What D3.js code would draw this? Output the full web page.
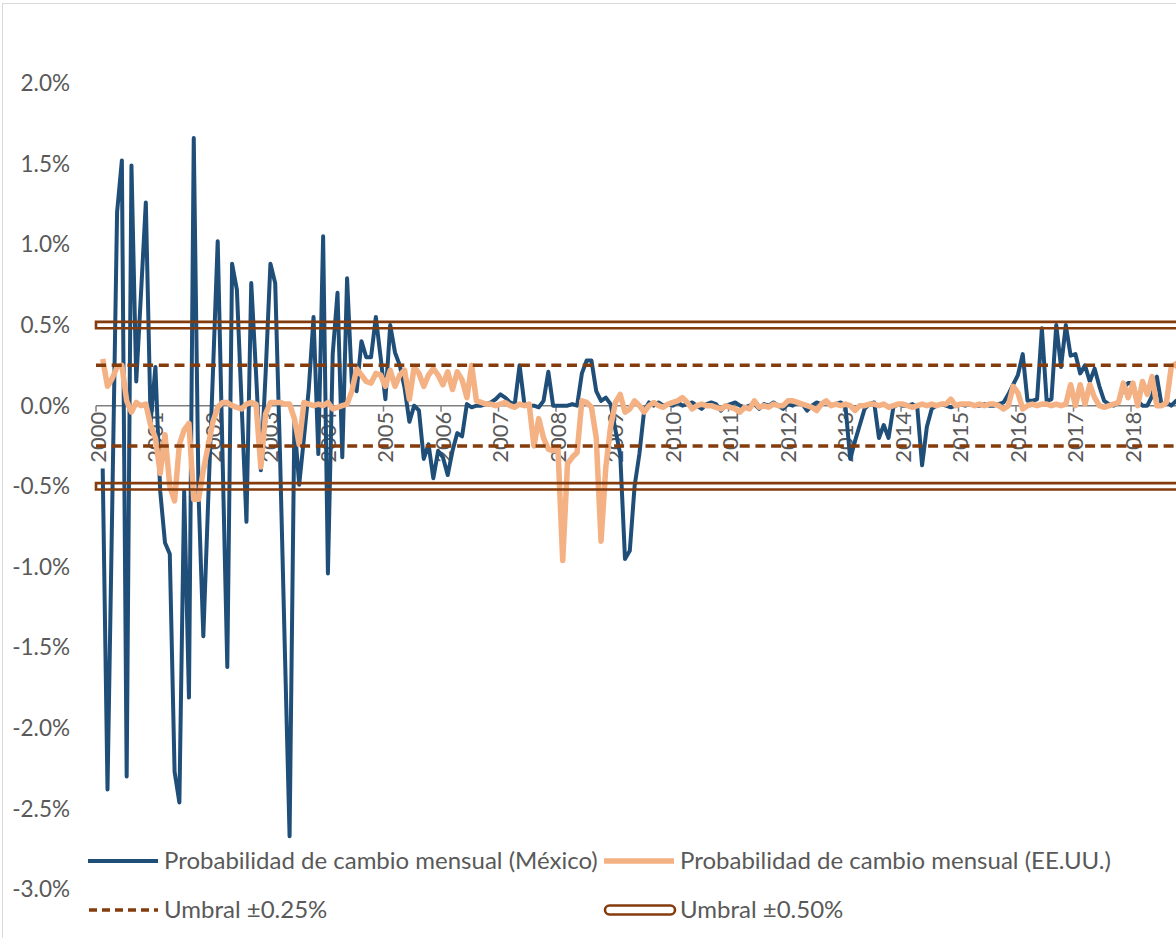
<!DOCTYPE html>
<html>
<head>
<meta charset="utf-8">
<script src="https://cdn.jsdelivr.net/npm/d3@7"></script>
<style>
  body { margin: 0; background: #fff; }
  text { font-family: Lato, "Open Sans", sans-serif; fill: #595959; }
</style>
</head>
<body>
<svg id="chart"></svg>
<script>
// Probabilidad de cambio mensual, % (monthly, Jan 2000 onward)
const mexico = [
  -0.39, -2.38, -0.6, 1.2, 1.52, -2.3, 1.49, 0.15, 0.7, 1.26, -0.1, 0.24,
  -0.53, -0.85, -0.92, -2.27, -2.46, -0.53, -1.81, 1.66, -0.55, -1.43, -0.6, 0.2,
  1.02, -0.3, -1.62, 0.88, 0.72, 0.0, -0.72, 0.76, 0.2, -0.4, 0.2, 0.88,
  0.76, -0.3, -1.5, -2.67, -0.1, -0.49, -0.2, 0.1, 0.55, -0.3, 1.05, -1.04,
  0.32, 0.7, -0.32, 0.79, 0.14, 0.09, 0.4, 0.3, 0.3, 0.55, 0.3, 0.04,
  0.5, 0.33, 0.25, 0.11, -0.1, 0.0, -0.03, -0.33, -0.24, -0.45, -0.28, -0.32,
  -0.43, -0.28, -0.17, -0.19, 0.01, -0.01, 0.0, 0.0, 0.01, 0.02, 0.04, 0.07,
  0.05, 0.02, 0.01, 0.25, 0.01, 0.0, 0.0, -0.01, 0.03, 0.21, 0.0, 0.0,
  0.0, 0.0, 0.01, 0.0, 0.2, 0.28, 0.28, 0.09, 0.03, 0.05, 0.01, -0.15,
  -0.3, -0.95, -0.9, -0.5, -0.3, -0.03, 0.02, 0.0, 0.02, 0.0, 0.01, 0.0,
  0.02, 0.0, 0.01, 0.02, 0.0, -0.02, 0.01, 0.02, 0.01, -0.03, 0.0, 0.01,
  0.02, 0.0, -0.01, 0.0, 0.01, -0.02, 0.01, 0.0, 0.02, 0.0, -0.02, 0.01,
  0.0, 0.02, 0.01, -0.03, 0.0, 0.02, 0.01, 0.03, 0.0, 0.01, 0.02, 0.0,
  -0.33, -0.22, -0.12, -0.02, 0.01, 0.02, -0.2, -0.12, -0.2, -0.01, 0.01, 0.0,
  0.0, 0.01, -0.01, -0.37, -0.13, -0.02, 0.0, 0.01, 0.0, -0.01, 0.0, 0.01,
  0.0, 0.01, 0.0, 0.0, 0.01, 0.0, 0.0, 0.01, 0.02, 0.07, 0.13, 0.19,
  0.32, 0.03, 0.03, 0.04, 0.48, 0.03, 0.04, 0.5, 0.24, 0.5, 0.31, 0.32,
  0.2, 0.25, 0.15, 0.23, 0.12, 0.03, 0.01, 0.0, 0.02, 0.11, 0.14, 0.14,
  0.03, 0.0, 0.0, 0.06, 0.18, 0.0, 0.02, 0.0, 0.03, 0.02, 0.0, 0.0
];

const usa = [
  0.29, 0.12, 0.17, 0.24, 0.25, 0.03, -0.04, 0.02, 0.0, 0.01, -0.12, -0.2,
  -0.42, -0.18, -0.5, -0.59, -0.24, -0.15, -0.11, -0.58, -0.58, -0.4, -0.25, -0.1,
  -0.01, 0.02, 0.02, 0.0, -0.01, -0.02, 0.01, 0.02, 0.01, -0.38, -0.05, 0.02,
  0.02, 0.02, 0.01, 0.01, -0.08, -0.24, 0.02, 0.01, 0.0, 0.01, 0.0, 0.02,
  -0.02, -0.01, 0.0, 0.01, 0.09, 0.23, 0.19, 0.15, 0.14, 0.2, 0.19, 0.12,
  0.22, 0.12, 0.19, 0.22, 0.04, 0.24, 0.2, 0.12, 0.19, 0.23, 0.19, 0.13,
  0.21, 0.1, 0.21, 0.16, 0.05, 0.25, 0.03, 0.02, 0.01, 0.01, 0.0, 0.01,
  0.02, 0.0, -0.01, 0.01, 0.0, 0.01, -0.25, -0.08, -0.2, -0.27, -0.28, -0.26,
  -0.96, -0.36, -0.32, -0.29, 0.03, 0.02, -0.01, -0.2, -0.84, -0.38, -0.13, 0.02,
  0.07, -0.04, -0.02, 0.03, 0.0, -0.04, 0.0, 0.02, 0.0, -0.01, 0.01, 0.02,
  0.03, 0.05, 0.02, -0.02, 0.0, 0.01, 0.0, 0.0, -0.01, -0.02, 0.0, -0.01,
  -0.02, -0.04, -0.01, -0.02, 0.03, -0.01, 0.0, -0.01, 0.01, 0.0, 0.0, 0.03,
  0.03, 0.02, 0.01, 0.0, -0.01, -0.03, 0.01, 0.03, 0.0, 0.01, 0.0, 0.01,
  0.0, -0.03, 0.0, 0.0, 0.01, 0.01, 0.0, 0.01, -0.01, 0.0, 0.01, 0.01,
  0.0, -0.01, 0.0, 0.01, 0.0, 0.01, 0.0, 0.01, 0.01, 0.04, 0.0, 0.01,
  0.01, 0.01, 0.0, 0.01, 0.0, 0.01, 0.01, 0.0, -0.02, 0.0, 0.12, 0.08,
  -0.02, 0.0, 0.01, 0.0, 0.01, 0.01, 0.0, 0.01, 0.0, 0.01, 0.13, 0.0,
  0.13, 0.01, 0.13, 0.05, 0.0, -0.01, 0.0, 0.01, 0.02, 0.14, 0.05, 0.14,
  0.0, 0.15, 0.07, 0.18, 0.0, 0.0, 0.02, 0.24, 0.26, 0.2, 0.1, 0.05
];

const thresholds = [0.25, -0.25];
const bands = [0.5, -0.5];
const yTicks = [-3, -2.5, -2, -1.5, -1, -0.5, 0, 0.5, 1, 1.5, 2];
const years = d3.range(2000, 2019);

const legendItems = [
  { label: "Probabilidad de cambio mensual (México)", kind: "mx" },
  { label: "Probabilidad de cambio mensual (EE.UU.)", kind: "us" },
  { label: "Umbral ±0.25%", kind: "dash" },
  { label: "Umbral ±0.50%", kind: "double" }
];

const size = { width: 1176, height: 938 };
const colors = { mx: "#1F4E79", us: "#F4B183", umbral: "#843C0C", axis: "#7F7F7F" };

const svg = d3.select("#chart")
  .attr("width", size.width)
  .attr("height", size.height);

svg.append("rect")
  .attr("x", 2.5).attr("y", 3.5)
  .attr("width", size.width + 10).attr("height", size.height)
  .attr("fill", "none")
  .attr("stroke", "#D9D9D9");

const x = d3.scaleLinear().domain([2000, 2020]).range([96, 96 + 20 * 57.5]);
const y = d3.scaleLinear().domain([-3, 2.5]).range([889.5, 2.5]);
const monthPos = i => 2000 + (i + 1.4) / 12;
const right = size.width + 20;

// y labels
svg.append("g").selectAll("text")
  .data(yTicks)
  .join("text")
  .attr("x", 70)
  .attr("y", d => y(d))
  .attr("dy", "0.35em")
  .attr("text-anchor", "end")
  .style("font-size", "22.5px")
  .text(d => d.toFixed(1) + "%");

// x axis
const axisG = svg.append("g");
axisG.append("line")
  .attr("x1", x(2000)).attr("x2", right)
  .attr("y1", y(0)).attr("y2", y(0))
  .attr("stroke", colors.axis).attr("stroke-width", 1.5);

axisG.selectAll(".tick")
  .data(years.concat([2019]))
  .join("line")
  .attr("class", "tick")
  .attr("x1", d => x(d)).attr("x2", d => x(d))
  .attr("y1", y(0)).attr("y2", y(0) + 6)
  .attr("stroke", colors.axis).attr("stroke-width", 1.5);

axisG.selectAll("text")
  .data(years)
  .join("text")
  .attr("transform", d => `translate(${x(d) + 2},${y(0) + 6}) rotate(-90)`)
  .attr("dy", "0.36em")
  .attr("text-anchor", "end")
  .style("font-size", "22px")
  .text(d => d);

const line = d3.line()
  .x((d, i) => x(monthPos(i)))
  .y(d => y(d));

svg.append("path")
  .datum(mexico)
  .attr("d", line)
  .attr("fill", "none")
  .attr("stroke", colors.mx)
  .attr("stroke-width", 4)
  .attr("stroke-linejoin", "round");

svg.append("path")
  .datum(usa)
  .attr("d", line)
  .attr("fill", "none")
  .attr("stroke", colors.us)
  .attr("stroke-width", 5.5)
  .attr("stroke-linejoin", "round");

svg.append("g").selectAll("line")
  .data(thresholds)
  .join("line")
  .attr("x1", x(2000)).attr("x2", right)
  .attr("y1", d => y(d)).attr("y2", d => y(d))
  .attr("stroke", colors.umbral)
  .attr("stroke-width", 3.5)
  .attr("stroke-dasharray", "10,5.7");

svg.append("g").selectAll("path")
  .data(bands)
  .join("path")
  .attr("d", d => `M${right},${y(d) - 3.2}H${x(2000)}V${y(d) + 3.2}H${right}`)
  .attr("fill", "none")
  .attr("stroke", colors.umbral)
  .attr("stroke-width", 2.6);

// legend
const legend = svg.append("g");
const legendPos = [[88, 861], [604, 861], [88, 910], [604, 910]];

legendItems.forEach((item, i) => {
  const [lx, ly] = legendPos[i];
  const g = legend.append("g").attr("transform", `translate(${lx},${ly})`);
  if (item.kind === "mx" || item.kind === "us") {
    g.append("line")
      .attr("x1", 0).attr("x2", 70)
      .attr("stroke", colors[item.kind])
      .attr("stroke-width", item.kind === "mx" ? 4 : 5.5);
  } else if (item.kind === "dash") {
    g.append("line")
      .attr("x1", 1).attr("x2", 70)
      .attr("stroke", colors.umbral)
      .attr("stroke-width", 3.5)
      .attr("stroke-dasharray", "8,5");
  } else {
    g.append("rect")
      .attr("x", 1).attr("y", -4.5)
      .attr("width", 70).attr("height", 9)
      .attr("rx", 4.5)
      .attr("fill", "#fff")
      .attr("stroke", colors.umbral)
      .attr("stroke-width", 2.6);
  }
  g.append("text")
    .attr("x", 76)
    .attr("dy", "0.35em")
    .style("font-size", "24px")
    .text(item.label);
});
</script>
</body>
</html>
